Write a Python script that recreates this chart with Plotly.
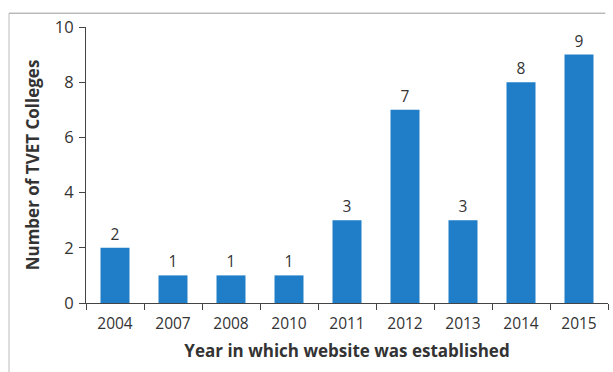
import plotly.graph_objects as go

years = ["2004", "2007", "2008", "2010", "2011", "2012", "2013", "2014", "2015"]
colleges = [2, 1, 1, 1, 3, 7, 3, 8, 9]
y_ticks = [0, 2, 4, 6, 8, 10]

fig = go.Figure(go.Bar(
    x=years, y=colleges,
    marker=dict(color="#1F7EC7", line=dict(width=0)),
    width=0.5,
    text=[str(v) for v in colleges], textposition="outside",
    constraintext="none",
    textfont=dict(size=15.5, color="#333333", family="Open Sans"),
    cliponaxis=False,
))

fig.update_layout(
    width=613, height=372,
    margin=dict(l=86, r=5, t=27, b=69),
    paper_bgcolor="white", plot_bgcolor="white",
    showlegend=False,
    font=dict(family="Open Sans", color="#333333", size=15),
    xaxis=dict(
        type="category", tickson="boundaries", ticks="outside", ticklen=6,
        tickcolor="#444444", showline=True, linecolor="#444444", linewidth=1,
        showgrid=False, tickfont=dict(size=15.5), ticklabelstandoff=6,
        title=dict(text="<b>Year in which website was established</b>",
                   font=dict(size=17), standoff=12),
    ),
    yaxis=dict(
        range=[0, 10], tickvals=y_ticks, ticks="outside", ticklen=6,
        tickcolor="#444444", showline=True, linecolor="#444444", linewidth=1,
        showgrid=False, zeroline=False, tickfont=dict(size=16.5),
        ticklabelstandoff=2,
        title=dict(text="<b>Number of TVET Colleges</b>",
                   font=dict(size=17), standoff=10),
    ),
    shapes=[
        dict(type="line", xref="paper", yref="paper", x0=-0.1475, x1=0.995,
             y0=1.05, y1=1.05, line=dict(color="#999999", width=1)),
        dict(type="line", xref="paper", yref="paper", x0=-0.1475, x1=-0.1475,
             y0=1.05, y1=-0.25, line=dict(color="#BBBBBB", width=1)),
    ],
)

fig.write_html("out.html")
